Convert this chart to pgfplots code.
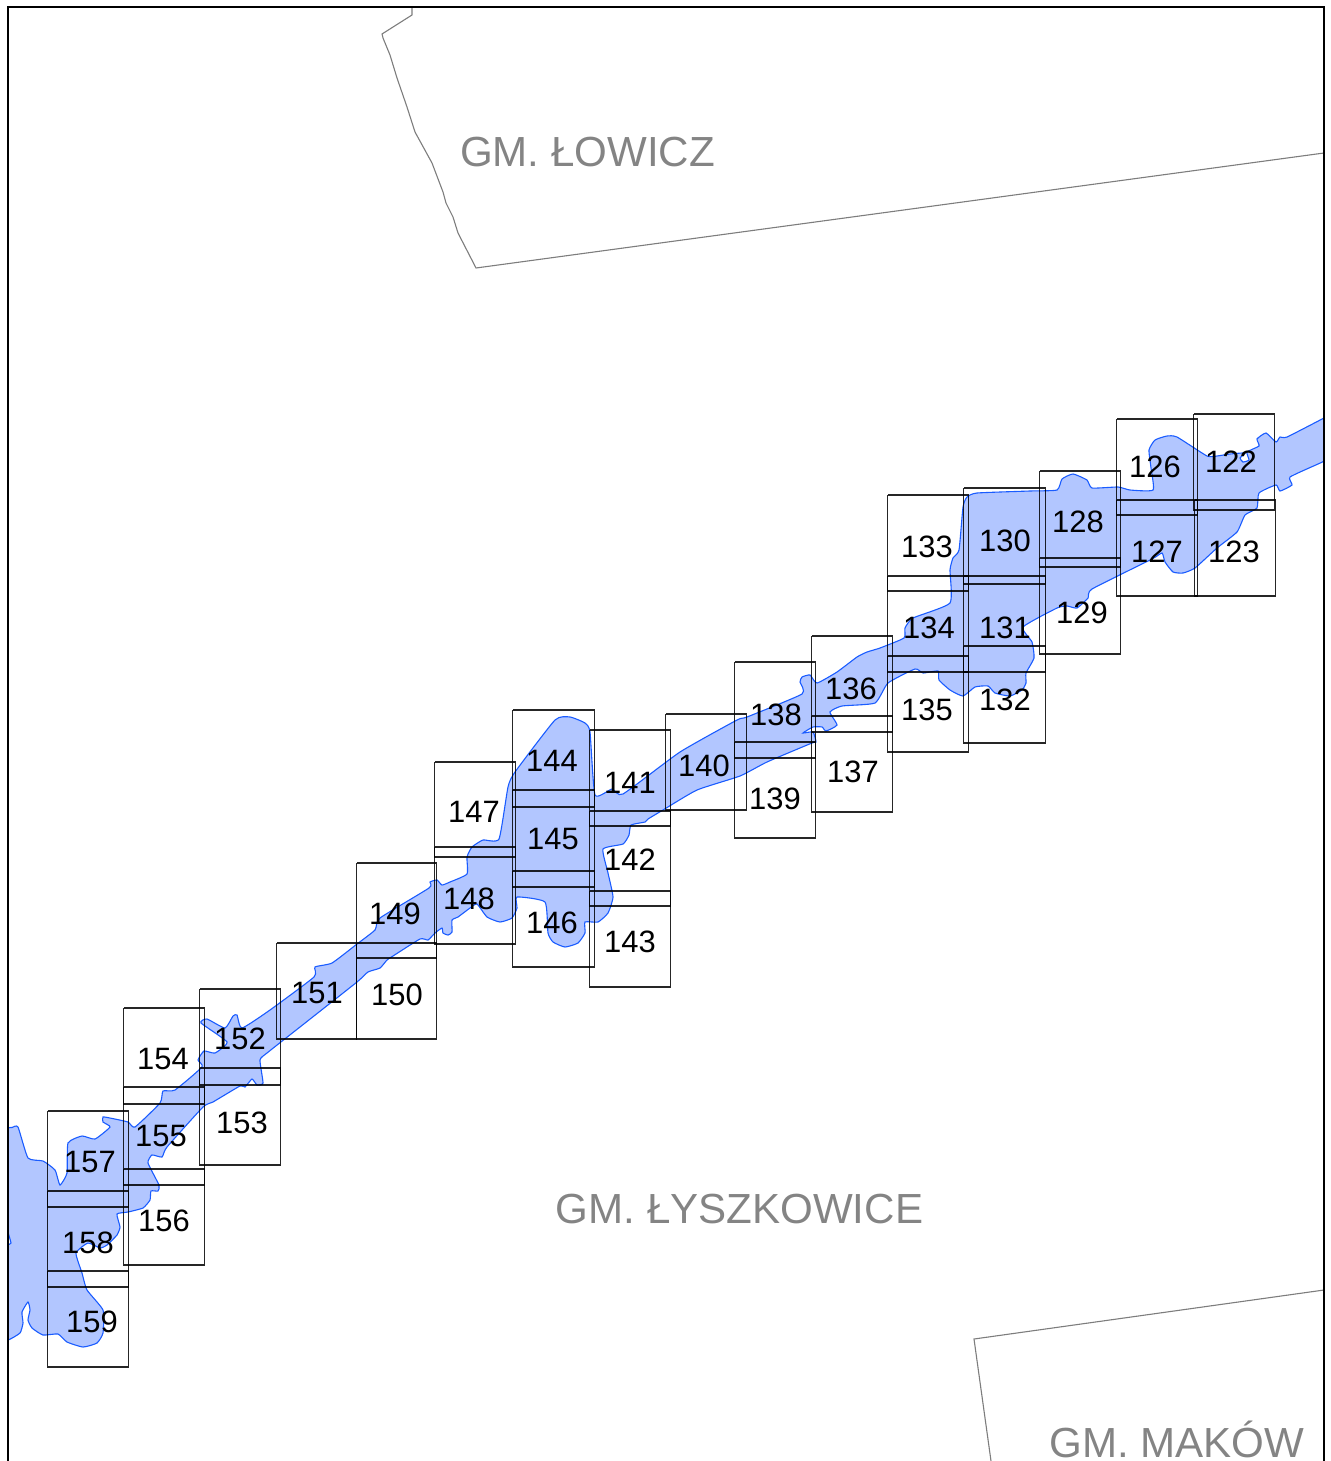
\documentclass[border=0pt]{standalone}
\usepackage{fontspec}
\setmainfont{Liberation Sans}
\usepackage{pgfplots}
\pgfplotsset{compat=1.18}
\definecolor{floodfill}{RGB}{178,198,255}
\definecolor{floodline}{RGB}{26,92,255}
\definecolor{gminaline}{RGB}{125,125,125}
\definecolor{gminatext}{RGB}{132,132,132}
% one sheet of the grid: left, top, right, bottom
\newcommand{\sheet}[4]{\addplot[black, line width=0.55pt, opacity=0.85] coordinates {(#1-0.2,#2) (#3-0.2,#2) (#3-0.2,#4) (#1-0.2,#4) (#1-0.2,#2)};}
\newcommand{\num}[3]{\node[font=\fontsize{15.45}{18}\selectfont, inner sep=0pt] at (axis cs:#1,#2+0.5) {#3};}
\newcommand{\gmina}[3]{\node[font=\fontsize{21.05}{25}\selectfont, text=gminatext, inner sep=0pt] at (axis cs:#1,#2) {#3};}
\begin{document}
\begin{tikzpicture}
\begin{axis}[
    x=0.5pt, y=0.5pt,
    y dir=reverse,
    xmin=0, xmax=1330, ymin=0, ymax=1461,
    hide axis,
    clip=true,
    scale only axis,
]
% page extent
\addplot[white, line width=0pt] coordinates {(0,0) (1330,0) (1330,1461) (0,1461) (0,0)};

% flood zone
\addplot[smooth, tension=0.3, fill=floodfill, draw=floodline, line width=0.55pt] coordinates {
(1324,418) (1287,437) (1280,437) (1276,442) (1266,433) (1257,439) (1259,446) (1247,452)
(1249,460) (1243,462) (1240,458) (1245,453) (1230,454) (1217,456) (1207,456) (1177,437) (1167,436)
(1155,440) (1149,450) (1151,468) (1153,490) (1130,490) (1118,487) (1092,488) (1087,480) (1073,474)
(1062,479) (1057,490) (1030,491) (977,493) (967,497) (963,507) (959,550) (953,558) (950,570)
(950,603) (913,618) (905,628) (904,638) (880,648) (867,652) (857,657) (837,672) (817,683)
(810,675) (802,677) (800,682) (802,694) (747,717) (737,720) (680,752) (623,794) (612,789)
(595,795) (590,732) (585,723) (570,717) (555,720) (515,772) (508,787) (499,839) (483,840)
(472,847) (467,857) (467,874) (450,882) (442,885) (437,880) (430,882) (429,888) (380,918)
(375,930) (357,944) (332,963) (315,967) (314,977) (270,1010) (242,1028) (237,1015) (233,1016)
(225,1028) (207,1019) (201,1023) (227,1042) (215,1053) (204,1051) (198,1060) (202,1067) (175,1090)
(163,1091) (160,1103) (135,1127) (128,1122) (110,1118) (103,1117) (103,1122) (110,1127) (95,1139)
(82,1136) (68,1143) (67,1173) (60,1185) (55,1170) (43,1161) (28,1158) (18,1127) (12,1127.5) (8,1128)
(8,1135) (8,1225) (8,1232) (11,1243) (8,1245) (8,1252) (8,1332) (8,1340) (20,1333) (23,1323) (22,1312) (28,1302) (30,1310)
(28,1320) (32,1328) (43,1335) (58,1334) (67,1342) (83,1347) (97,1343) (103,1333) (103,1310)
(87,1290) (82,1273) (76,1253) (88,1243) (100,1248) (107,1245) (117,1235) (120,1227) (117,1214)
(128,1212) (143,1208) (150,1200) (151,1191) (158,1191) (159,1185) (148,1163) (152,1155) (162,1157)
(167,1147) (203,1107) (213,1102) (240,1086) (245,1087) (252,1079) (257,1085) (263,1083) (260,1060)
(267,1053) (300,1027) (357,982) (368,972) (380,968) (387,960) (393,956) (420,939) (428,940)
(435,933) (442,928) (443,933) (448,935) (452,932) (452,920) (458,917) (470,908) (477,904)
(487,917) (500,922) (512,918) (517,908) (517,897) (545,902) (548,933) (553,942) (565,947)
(578,943) (585,933) (585,922) (598,922) (608,913) (613,897) (608,873) (603,849) (623,844)
(629,835) (631,825) (645,822) (648,819) (663,810) (697,790) (740,776) (767,762) (812,743)
(816,742) (813,732) (803,733) (813,727) (822,727) (826,731) (837,725) (830,712) (842,706)
(875,703) (888,683) (915,669) (923,673) (938,671) (939,680) (950,690) (963,696) (975,687)
(988,686) (995,693) (1010,696) (1022,690) (1026,683) (1026,673) (1034,658) (1032,642) (1023,627)
(1057,608) (1067,606) (1077,608) (1088,598) (1092,589) (1152,559) (1162,553) (1165,562) (1173,572)
(1183,573) (1195,568) (1217,548) (1237,532) (1245,515) (1257,508) (1259,493) (1276,485) (1280,491)
(1292,485) (1290,477) (1318,464) (1324,461) (1324,455) (1324,424) (1324,418)
};

% commune borders
\addplot[gminaline, line width=0.55pt] coordinates {(412,7) (412,15) (382,34) (383,38) (390,55) (397,78) (407,107) (415,132) (432,163) (443,192) (446,203) (453,217) (458,233) (476,268) (1324,153)};
\addplot[gminaline, line width=0.55pt] coordinates {(1324,1290) (974,1339) (991,1461)};

% map frame
\addplot[black, line width=0.6pt] coordinates {(8,1461) (8,7) (1324,7) (1324,1461)};

% sheets
\sheet{1194}{414}{1275}{510} \sheet{1195}{500}{1276}{596}
\sheet{1117}{419}{1198}{515} \sheet{1117}{500}{1198}{596}
\sheet{1040}{471}{1121}{567} \sheet{1040}{558}{1121}{654}
\sheet{964}{488}{1046}{584} \sheet{964}{576}{1046}{672} \sheet{964}{646}{1046}{743}
\sheet{888}{495}{969}{591} \sheet{888}{576}{969}{672} \sheet{888}{656}{969}{752}
\sheet{812}{636}{893}{732} \sheet{812}{716}{893}{812}
\sheet{735}{662}{816}{758} \sheet{735}{742}{816}{838}
\sheet{666}{714}{747}{810}
\sheet{590}{730}{671}{826} \sheet{590}{811}{671}{906} \sheet{590}{891}{671}{987}
\sheet{513}{710}{595}{807} \sheet{513}{790}{595}{887} \sheet{513}{871}{595}{967}
\sheet{435}{762}{516}{857} \sheet{435}{847}{516}{944}
\sheet{357}{863}{437}{958} \sheet{357}{943}{437}{1039}
\sheet{277}{943}{357}{1039}
\sheet{200}{989}{281}{1085} \sheet{200}{1068}{281}{1165}
\sheet{124}{1008}{205}{1104} \sheet{124}{1087}{205}{1185} \sheet{124}{1169}{205}{1265}
\sheet{48}{1111}{129}{1207} \sheet{48}{1191}{129}{1287} \sheet{48}{1271}{129}{1367}

% sheet numbers
\num{1231}{461}{122} \num{1234}{551}{123} \num{1155}{466}{126} \num{1157}{551}{127}
\num{1078}{521}{128} \num{1082}{612}{129} \num{1005}{540}{130} \num{1005}{627}{131}
\num{1005}{699}{132} \num{927}{546}{133} \num{929}{627}{134} \num{927}{709}{135}
\num{851}{688}{136} \num{853}{771}{137} \num{776}{714}{138} \num{775}{798}{139}
\num{704}{765}{140} \num{630}{782}{141} \num{630}{859}{142} \num{630}{941}{143}
\num{552}{760}{144} \num{553}{839}{145} \num{552}{922}{146} \num{474}{811}{147}
\num{469}{898}{148} \num{395}{913}{149} \num{397}{994}{150} \num{317}{993}{151}
\num{240}{1038}{152} \num{242}{1122}{153} \num{163}{1059}{154} \num{161}{1136}{155}
\num{164}{1220}{156} \num{90}{1162}{157} \num{88}{1242}{158} \num{92}{1321}{159}

\gmina{587.5}{152}{GM. ŁOWICZ}
\gmina{739.5}{1209}{GM. ŁYSZKOWICE}
\gmina{1177}{1439.5}{GM. MAKÓW}
\end{axis}
\end{tikzpicture}
\end{document}
